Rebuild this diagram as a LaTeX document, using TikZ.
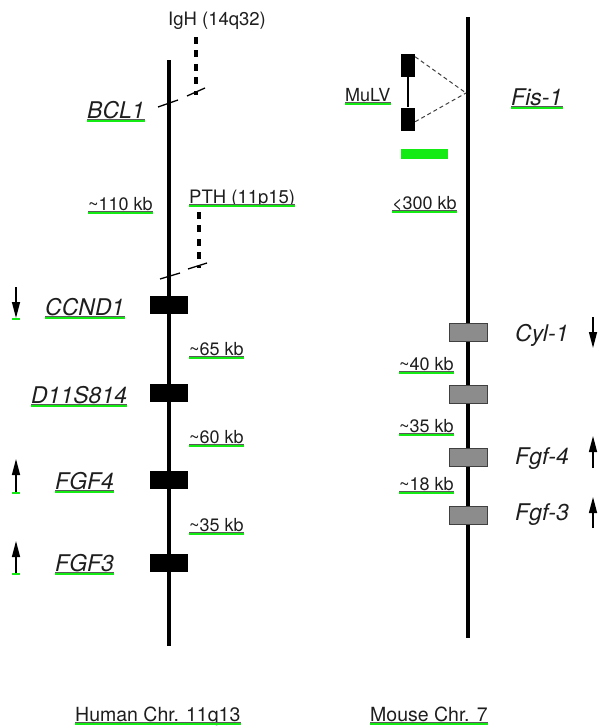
\documentclass[tikz,border=0pt]{standalone}
\usepackage{fontspec}
\setmainfont{TeX Gyre Heros}
\usetikzlibrary{arrows.meta,calc}
\definecolor{ugreen}{RGB}{20,235,20}
\definecolor{boxgray}{RGB}{140,140,140}
\definecolor{txt}{RGB}{30,30,30}
\newcommand\ulbl[1]{%
  \draw[black!65,line width=0.6pt] ($(#1.base west)+(0,1.6)$) -- ($(#1.base east)+(0,1.6)$);
  \draw[ugreen,line width=2pt] ($(#1.base west)+(0,3.4)$) -- ($(#1.base east)+(0,3.4)$);}
\begin{document}
\begin{tikzpicture}[x=1pt,y=-1pt,
  lbl/.style={inner sep=0pt,anchor=base west,text=txt,font=\fontsize{18.5}{20}\selectfont},
  kb/.style={lbl,font=\fontsize{18}{20}\selectfont},
  gene/.style={lbl,font=\fontsize{23}{25}\selectfont\itshape},
  title/.style={lbl,font=\fontsize{19.5}{22}\selectfont},
  chrom/.style={line width=4.6pt,line cap=butt},
  hbox/.style={fill=black,draw=none,minimum width=38pt,minimum height=18pt,inner sep=0pt},
  mbox/.style={fill=boxgray,draw=black!75,line width=0.7pt,minimum width=38pt,minimum height=18pt,inner sep=0pt},
  mulv/.style={fill=black,draw=none,minimum width=14pt,minimum height=23pt,inner sep=0pt},
  transloc/.style={line width=4pt,dash pattern=on 6.7pt off 6.7pt},
  brk/.style={line width=1.3pt},
  orient/.style={line width=1.4pt,-{Triangle[length=16pt,width=8pt]}},
  ins/.style={black!75,line width=1pt,dash pattern=on 4pt off 3pt}
]
\useasboundingbox (0,0) rectangle (599,728);

% ---------- human chromosome ----------
\coordinate (htop) at (169,60);
\coordinate (hbot) at (169,646);
\draw[chrom] (htop) -- (hbot);
\node[hbox] (hb1) at (169,305) {};
\node[hbox] (hb2) at (169,393) {};
\node[hbox] (hb3) at (169,480) {};
\node[hbox] (hb4) at (169,563) {};

% IgH translocation
\coordinate (ighT) at (196,37);
\coordinate (ighB) at (196,95);
\draw[transloc] (ighT) -- (ighB);
\coordinate (b1a) at (158,107); \coordinate (b1b) at (178,100);
\coordinate (b1c) at (187,96);  \coordinate (b1d) at (205,88);
\draw[brk] (b1a) -- (b1b);
\draw[brk] (b1c) -- (b1d);

% PTH translocation
\coordinate (pthT) at (199,212);
\coordinate (pthB) at (199,268);
\draw[transloc] (pthT) -- (pthB);
\coordinate (b2a) at (160,279); \coordinate (b2b) at (180,273);
\coordinate (b2c) at (188,269); \coordinate (b2d) at (207,263);
\draw[brk] (b2a) -- (b2b);
\draw[brk] (b2c) -- (b2d);

% human labels
\node[lbl] (igh) at (168,25) {IgH (14q32)};
\node[gene] (bcl) at (87,118) {BCL1}; \ulbl{bcl}
\node[kb] (k110) at (88,210) {\textasciitilde110 kb}; \ulbl{k110}
\node[lbl] (pth) at (189,203) {PTH (11p15)}; \ulbl{pth}
\node[gene] (ccnd) at (45,315) {CCND1}; \ulbl{ccnd}
\node[gene] (d11) at (31,403) {D11S814}; \ulbl{d11}
\node[gene] (fgf4) at (55,489) {FGF4}; \ulbl{fgf4}
\node[gene] (fgf3) at (55,571) {FGF3}; \ulbl{fgf3}
\node[kb] (k65) at (189,355) {\textasciitilde65 kb}; \ulbl{k65}
\node[kb] (k60) at (189,443) {\textasciitilde60 kb}; \ulbl{k60}
\node[kb] (k35) at (189,531) {\textasciitilde35 kb}; \ulbl{k35}
\node[title] (human) at (75,721) {Human Chr. 11q13}; \ulbl{human}

% human orientation arrows
\coordinate (a1s) at (16,287); \coordinate (a1e) at (16,318);
\coordinate (a2s) at (16,492); \coordinate (a2e) at (16,459);
\coordinate (a3s) at (16,573); \coordinate (a3e) at (16,541);
\draw[orient] (a1s) -- (a1e);
\draw[orient] (a2s) -- (a2e);
\draw[orient] (a3s) -- (a3e);
\draw[ugreen,line width=2pt] ($(a1e)+(-4,0.5)$) -- ($(a1e)+(4,0.5)$);
\draw[ugreen,line width=2pt] ($(a2s)+(-4,0.5)$) -- ($(a2s)+(4,0.5)$);
\draw[ugreen,line width=2pt] ($(a3s)+(-4,0.5)$) -- ($(a3s)+(4,0.5)$);

% ---------- mouse chromosome ----------
\coordinate (mtop) at (468,17);
\coordinate (mbot) at (468,638);
\draw[chrom] (mtop) -- (mbot);
\node[mbox] (mb1) at (468,332) {};
\node[mbox] (mb2) at (468,394) {};
\node[mbox] (mb3) at (468,457) {};
\node[mbox] (mb4) at (468,515) {};

% MuLV insertion
\node[mulv] (mu1) at (408,65.5) {};
\node[mulv] (mu2) at (408,119) {};
\draw[line width=1.5pt] (mu1.south) -- (mu2.north);
\coordinate (insp) at (466,93);
\draw[ins] ($(mu1.north east)+(0,3)$) -- (insp);
\draw[ins] ($(mu2.south east)+(0,-9)$) -- (insp);
\node[fill=ugreen,draw=none,minimum width=47pt,minimum height=10pt,inner sep=0pt] (bar) at (424.5,154) {};

% mouse labels
\node[lbl,font=\fontsize{18}{20}\selectfont] (mulvl) at (345,101) {MuLV}; \ulbl{mulvl}
\node[gene] (fis) at (511,105) {Fis-1}; \ulbl{fis}
\node[kb] (k300) at (392,209) {\textless300 kb}; \ulbl{k300}
\node[kb] (k40) at (399,370) {\textasciitilde40 kb}; \ulbl{k40}
\node[kb] (k35m) at (399,432) {\textasciitilde35 kb}; \ulbl{k35m}
\node[kb] (k18) at (399,490) {\textasciitilde18 kb}; \ulbl{k18}
\node[gene] (cyl) at (515,341) {Cyl-1};
\node[gene] (fgfm4) at (515,464) {Fgf-4};
\node[gene] (fgfm3) at (515,520) {Fgf-3};
\node[title] (mouse) at (370,721) {Mouse Chr. 7}; \ulbl{mouse}

% mouse orientation arrows
\coordinate (m1s) at (593,317); \coordinate (m1e) at (593,348);
\coordinate (m2s) at (593,468); \coordinate (m2e) at (593,436);
\coordinate (m3s) at (593,528); \coordinate (m3e) at (593,497);
\draw[orient] (m1s) -- (m1e);
\draw[orient] (m2s) -- (m2e);
\draw[orient] (m3s) -- (m3e);
\end{tikzpicture}
\end{document}
